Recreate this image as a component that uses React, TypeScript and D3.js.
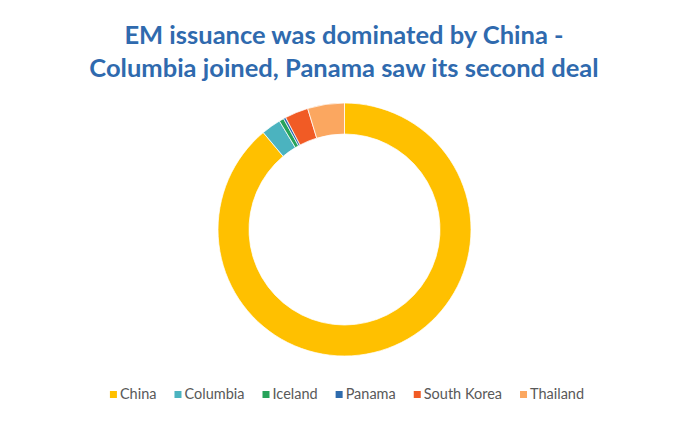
import React, { useEffect, useRef } from "react";
import * as d3 from "d3";

const categories = ["China", "Columbia", "Iceland", "Panama", "South Korea", "Thailand"];
const values = [88.9, 2.5, 0.6, 0.3, 3.0, 4.7];
const colors = ["#FFC000", "#4BB3BF", "#27A35A", "#2E6BAD", "#F15B25", "#FBA760"];
const titleLines = ["EM issuance was dominated by China -", "Columbia joined, Panama saw its second deal"];

const W = 689;
const H = 421;

export default function App() {
  const ref = useRef<SVGSVGElement>(null);
  useEffect(() => {
    const svg = d3.select(ref.current);
    svg.selectAll("*").remove();
    svg.append("rect").attr("width", W).attr("height", H).attr("fill", "#fff");

    const title = svg.append("text")
      .attr("text-anchor", "middle")
      .attr("font-family", "Lato, 'Open Sans', sans-serif")
      .attr("font-weight", 700)
      .attr("font-size", 25.5)
      .attr("fill", "#2F6AAE");
    titleLines.forEach((t, i) => {
      title.append("tspan").attr("x", 344).attr("y", 44 + i * 33).text(t);
    });

    const cx = 344.5, cy = 229.5;
    const pie = d3.pie<number>().sort(null).value((d) => d);
    const arc = d3.arc<d3.PieArcDatum<number>>().innerRadius(95.5).outerRadius(126.5);
    const g = svg.append("g").attr("transform", `translate(${cx},${cy})`);
    g.selectAll("path").data(pie(values)).join("path")
      .attr("d", arc as any)
      .attr("fill", (_d, i) => colors[i])
      .attr("stroke", "#fff")
      .attr("stroke-width", 0.75);

    // legend
    const fs = 14.5;
    const font = "Lato, 'Open Sans', sans-serif";
    const leg = svg.append("g");
    const items = leg.selectAll("g").data(categories).join("g");
    items.append("rect").attr("width", 7).attr("height", 7).attr("y", -8)
      .attr("fill", (_d, i) => colors[i]);
    const texts = items.append("text").attr("x", 10).attr("y", 0)
      .attr("font-family", font).attr("font-size", fs).attr("fill", "#595959")
      .text((d) => d);
    const widths: number[] = [];
    texts.each(function () { widths.push((this as SVGTextElement).getComputedTextLength()); });
    const gap = 18;
    const total = d3.sum(widths.map((w) => w + 10)) + gap * (categories.length - 1);
    let x = 347 - total / 2;
    items.attr("transform", (_d, i) => {
      const t = `translate(${x},399)`;
      x += widths[i] + 10 + gap;
      return t;
    });
  }, []);
  return <svg ref={ref} width={W} height={H} style={{ display: "block", margin: "-8px" }} />;
}
